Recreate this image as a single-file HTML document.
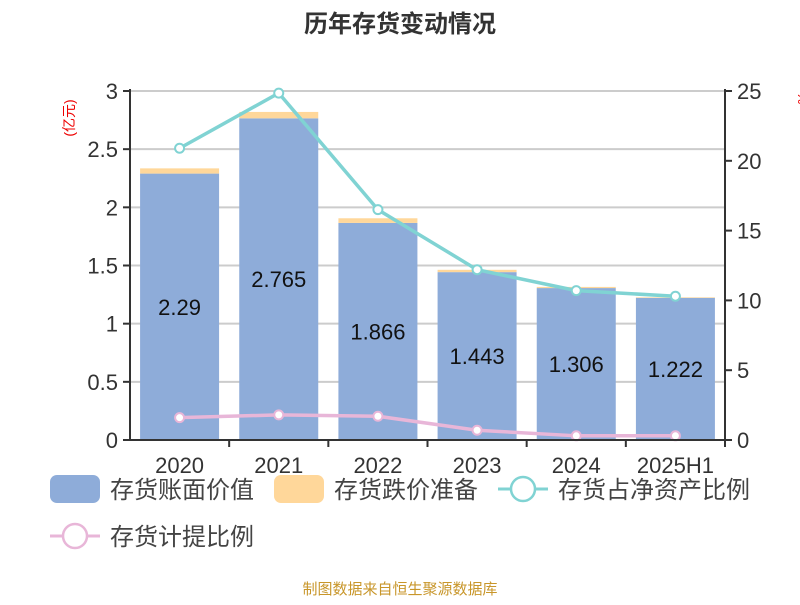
<!DOCTYPE html>
<html><head><meta charset="utf-8"><style>
body{margin:0;background:#fff;width:800px;height:600px;overflow:hidden;font-family:"Liberation Sans","Noto Sans CJK SC",sans-serif}
</style></head><body>
<svg id="c" width="800" height="600" xmlns="http://www.w3.org/2000/svg" font-family="Liberation Sans, Noto Sans CJK SC, sans-serif">
<text x="400" y="32" text-anchor="middle" font-size="24" font-weight="bold" fill="#333">历年存货变动情况</text>
<text x="74" y="118" font-size="14" fill="#e00" transform="rotate(-90 74 118)" text-anchor="middle">(亿元)</text>
<text x="798" y="92" font-size="14" fill="#e00" transform="rotate(90 798 92)">%</text>
<g id="grid"></g><g id="bars"></g><g id="lines"></g><g id="axes"></g>
<text x="400" y="594" text-anchor="middle" font-size="15" fill="#c8962a">制图数据来自恒生聚源数据库</text>
</svg>
<script>
const categories=["2020","2021","2022","2023","2024","2025H1"];
const bookValue=[2.29,2.765,1.866,1.443,1.306,1.222];
const provision=[0.045,0.055,0.04,0.02,0.01,0.005];
const ratioNetAssets=[20.9,24.85,16.5,12.2,10.7,10.3];
const ratioProvision=[1.6,1.8,1.7,0.7,0.3,0.3];
const leftTicks=["0","0.5","1","1.5","2","2.5","3"];
const rightTicks=["0","5","10","15","20","25"];
const NS="http://www.w3.org/2000/svg";
const X0=130,X1=725,Y0=440,Y1=91;
const yL=v=>Y0-(v/3)*(Y0-Y1);
const yR=v=>Y0-(v/25)*(Y0-Y1);
const band=(X1-X0)/categories.length;
const xC=i=>X0+band*(i+0.5);
function mk(t,a,p){const e=document.createElementNS(NS,t);for(const k in a)e.setAttribute(k,a[k]);p.appendChild(e);return e;}
const G=document.getElementById('grid'),B=document.getElementById('bars'),L=document.getElementById('lines'),A=document.getElementById('axes');
leftTicks.forEach(t=>{const y=yL(+t);
const g=mk('line',{x1:X0,x2:X1,y1:y,y2:y,stroke:'#ccc','stroke-width':2},G);


mk('line',{x1:X0-7,x2:X0,y1:y,y2:y,stroke:'#333','stroke-width':2},A);
const tx=mk('text',{x:X0-12,y:y+8,'text-anchor':'end','font-size':22,fill:'#333'},A);tx.textContent=t;

});
rightTicks.forEach(t=>{const y=yR(+t);
mk('line',{x1:X1,x2:X1+7,y1:y,y2:y,stroke:'#333','stroke-width':2},A);
const tx=mk('text',{x:X1+12,y:y+8,'font-size':22,fill:'#333'},A);tx.textContent=t;

});
mk('line',{x1:X0,x2:X0,y1:Y1-2,y2:Y0,stroke:'#333','stroke-width':2},A);
mk('line',{x1:X1,x2:X1,y1:Y1-2,y2:Y0,stroke:'#333','stroke-width':2},A);
mk('line',{x1:X0,x2:X1,y1:Y0,y2:Y0,stroke:'#333','stroke-width':2},A);
const bw=79;
categories.forEach((c,i)=>{const x=xC(i)-bw/2;
const b=mk('rect',{x:x,y:yL(bookValue[i]),width:bw,height:Y0-yL(bookValue[i]),fill:'#8eacd9'},B);


const p=mk('rect',{x:x,y:yL(bookValue[i]+provision[i]),width:bw,height:yL(bookValue[i])-yL(bookValue[i]+provision[i]),fill:'#ffd79a'},B);


const lb=mk('text',{x:xC(i),y:(Y0+yL(bookValue[i]))/2+8,'text-anchor':'middle','font-size':22,fill:'#111'},B);lb.textContent=bookValue[i];


mk('line',{x1:X0+band*(i+1),x2:X0+band*(i+1),y1:Y0,y2:Y0+7,stroke:'#333','stroke-width':2},A);
const ct=mk('text',{x:xC(i),y:Y0+33,'text-anchor':'middle','font-size':22,fill:'#333'},A);ct.textContent=c;

});
function line(data,f,color,name){
const pl=mk('polyline',{points:data.map((v,i)=>xC(i)+','+f(v)).join(' '),fill:'none',stroke:color,'stroke-width':3.5},L);


data.forEach((v,i)=>{const p=mk('circle',{cx:xC(i),cy:f(v),r:4.5,fill:'#fff',stroke:color,'stroke-width':2},L);

});}
line(ratioNetAssets,yR,'#80d3d3','net-asset-ratio');
line(ratioProvision,yR,'#e8b6d8','provision-ratio');
// legend
const leg=[['rect','#8eacd9','存货账面价值',50,489],['rect','#ffd79a','存货跌价准备',274,489],['line','#80d3d3','存货占净资产比例',498,489],['line','#e8b6d8','存货计提比例',50,536]];
leg.forEach(l=>{const g=mk('g',{},document.getElementById('c'));


if(l[0]=='rect')mk('rect',{x:l[3],y:l[4]-14,width:50,height:28,rx:7,fill:l[1]},g);
else{mk('line',{x1:l[3],x2:l[3]+50,y1:l[4],y2:l[4],stroke:l[1],'stroke-width':3},g);mk('circle',{cx:l[3]+25,cy:l[4],r:12,fill:'#fff',stroke:l[1],'stroke-width':2.5},g);}
const t=mk('text',{x:l[3]+60,y:l[4]+9,'font-size':24,fill:'#444'},g);t.textContent=l[2];});
</script>
</body></html>
